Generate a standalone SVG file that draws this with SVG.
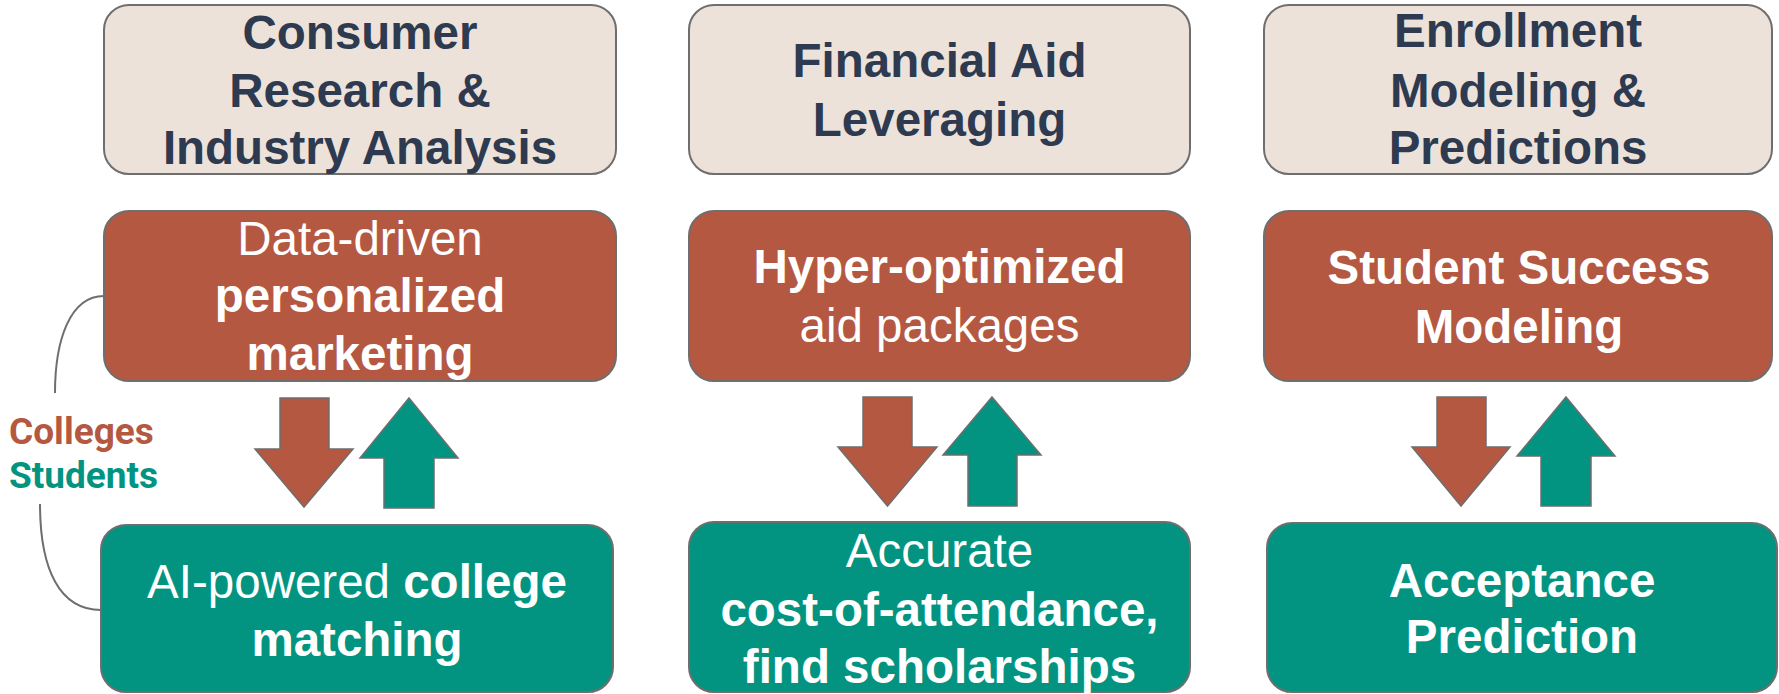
<svg xmlns="http://www.w3.org/2000/svg" width="1779" height="694" viewBox="0 0 1779 694">
<style>
.hdr{fill:#EDE2DA;stroke:#6E6E6E;stroke-width:2}
.red{fill:#B55842;stroke:#6E6E6E;stroke-width:2}
.teal{fill:#039481;stroke:#6E6E6E;stroke-width:2}
.ht{font-family:"Liberation Sans",Arial,sans-serif;font-weight:bold;font-size:47.5px;fill:#2E3A4F;text-anchor:middle}
.wt{font-family:"Liberation Sans",Arial,sans-serif;font-size:47.5px;fill:#FFFFFF;text-anchor:middle}
.b{font-weight:bold}
.ar{stroke:#6E6E6E;stroke-width:1.5;stroke-linejoin:miter}
.ard{fill:#B55842}
.aru{fill:#039481}
.lbl{font-family:Roboto,"Liberation Sans",sans-serif;font-weight:bold;font-size:37px}
.cv{fill:none;stroke:#6E6E6E;stroke-width:2}
</style>
<rect width="1779" height="694" fill="#FFFFFF"/>
<g id="hdr1"><rect class="hdr" x="104" y="5" width="512" height="169" rx="25"/>
<text class="ht" x="360" y="49">Consumer</text><text class="ht" x="360" y="107">Research &amp;</text><text class="ht" x="360" y="164">Industry Analysis</text></g>
<g id="hdr2"><rect class="hdr" x="689" y="5" width="501" height="169" rx="25"/>
<text class="ht" x="939.5" y="77">Financial Aid</text><text class="ht" x="939.5" y="136">Leveraging</text></g>
<g id="hdr3"><rect class="hdr" x="1264" y="5" width="508" height="169" rx="25"/>
<text class="ht" x="1518" y="47">Enrollment</text><text class="ht" x="1518" y="107">Modeling &amp;</text><text class="ht" x="1518" y="164">Predictions</text></g>
<g id="red1"><rect class="red" x="104" y="211" width="512" height="170" rx="25"/>
<text class="wt" x="360" y="255">Data-driven</text><text class="wt b" x="360" y="312">personalized</text><text class="wt b" x="360" y="370">marketing</text></g>
<g id="red2"><rect class="red" x="689" y="211" width="501" height="170" rx="25"/>
<text class="wt b" x="939.5" y="283">Hyper-optimized</text><text class="wt" x="939.5" y="342">aid packages</text></g>
<g id="red3"><rect class="red" x="1264" y="211" width="508" height="170" rx="25"/>
<text class="wt b" x="1519" y="284">Student Success</text><text class="wt b" x="1519" y="343">Modeling</text></g>
<g id="teal1"><rect class="teal" x="101" y="525" width="512" height="167" rx="25"/>
<text class="wt" x="357" y="598">AI-powered <tspan class="b">college</tspan></text><text class="wt b" x="357" y="656">matching</text></g>
<g id="teal2"><rect class="teal" x="689" y="522" width="501" height="170" rx="25"/>
<text class="wt" x="939.5" y="567">Accurate</text><text class="wt b" x="939.5" y="626">cost-of-attendance,</text><text class="wt b" x="939.5" y="683">find scholarships</text></g>
<g id="teal3"><rect class="teal" x="1267" y="523" width="510" height="169" rx="25"/>
<text class="wt b" x="1522" y="597">Acceptance</text><text class="wt b" x="1522" y="653">Prediction</text></g>
<g id="legend"><text class="lbl" x="9" y="444" fill="#B55842">Colleges</text><text class="lbl" x="9" y="488" fill="#039481">Students</text></g>
<g id="connectors">
<path class="cv" d="M104,296 C70,296 55,340 55,393"/>
<path class="cv" d="M40,504 C40,570 60,610 101,610"/>
<polygon class="ar ard" points="280,398 329,398 329,449 353,449 304,507 255,449 280,449"/>
<polygon class="ar aru" points="409,398 458,458 434,458 434,508 384,508 384,458 360,458"/>
<polygon class="ar ard" points="863,397 912,397 912,447 937,447 887.5,506 838,447 863,447"/>
<polygon class="ar aru" points="992,397 1041,455 1017,455 1017,506 968,506 968,455 943,455"/>
<polygon class="ar ard" points="1437,397 1486,397 1486,447 1510,447 1461,506 1412,447 1437,447"/>
<polygon class="ar aru" points="1566,397 1615,456 1591,456 1591,506 1541,506 1541,456 1517,456"/>
</g>
</svg>
